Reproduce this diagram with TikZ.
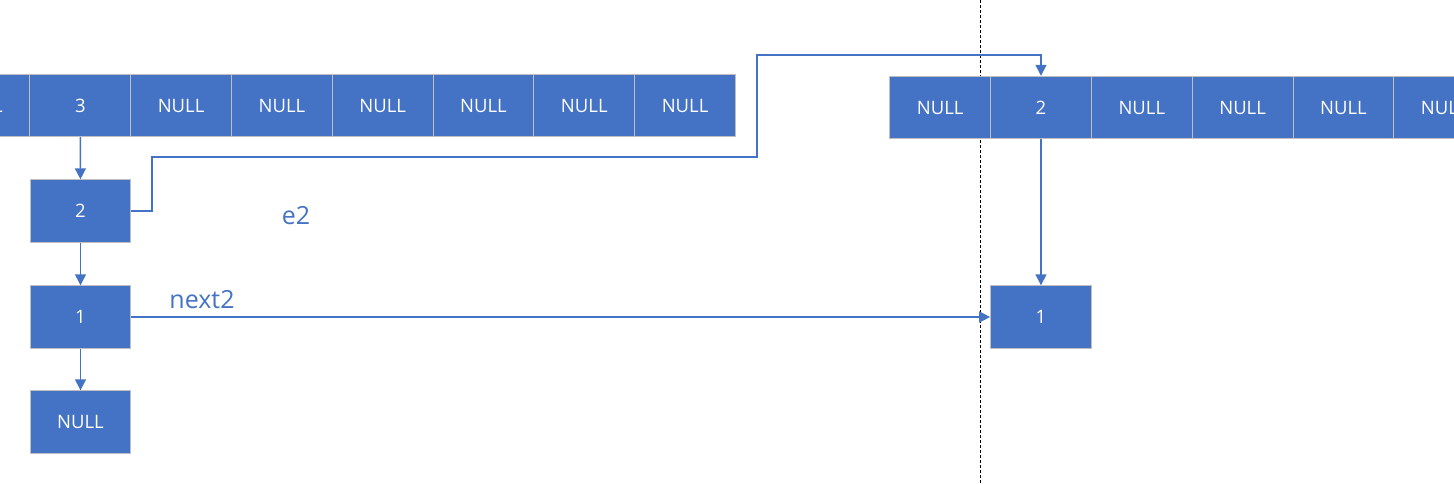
\documentclass[tikz,border=0pt]{standalone}
\usepackage{fontspec}
\setmainfont{Open Sans}
\usetikzlibrary{arrows.meta}
\definecolor{blockblue}{HTML}{4472C4}
\definecolor{cellgrey}{HTML}{BFBFBF}
\tikzset{
	cell/.style={rectangle, fill=blockblue, draw=cellgrey, line width=0.9pt,
		minimum width=100.8pt, minimum height=62.5pt, inner sep=0pt, text=white,
		font=\fontsize{18.5}{22}\selectfont},
	link/.style={draw=blockblue, line width=1.4pt, -{Triangle[length=11pt,width=11pt]}},
	tag/.style={text=blockblue, font=\fontsize{25}{29}\selectfont}
}
\begin{document}
\begin{tikzpicture}[x=1pt,y=-1pt]
		\useasboundingbox (0,0) rectangle (1454,484);
		\clip (0,0) rectangle (1454,484);
		\draw[black, line width=0.9pt, dash pattern=on 3pt off 2pt] (980,0) -- (980,484);
		\foreach \txt [count=\i from 0] in {NULL,3,NULL,NULL,NULL,NULL,NULL,NULL}
			\node[cell] (ta\i) at ({-20.5+100.8*\i},105.5) {\txt};
		\foreach \txt [count=\i from 0] in {NULL,2,NULL,NULL,NULL,NULL}
			\node[cell] (tb\i) at ({940.2+100.8*\i},107.5) {\txt};
		\node[cell] (l2) at (80.5,211) {2};
		\node[cell] (l1) at (80.5,317) {1};
		\node[cell] (lnull) at (80.5,422) {NULL};
		\node[cell] (r1) at (1041,317) {1};
		\node[tag] (e2) at (296,216) {e2};
		\node[tag] (next2) at (202,300) {next2};
		\draw[link] (ta1) -- (l2);
		\draw[link] (l2) -- (l1);
		\draw[link] (l1) -- (lnull);
		\draw[link] (l1) -- (r1);
		\draw[link] (tb1) -- (r1);
		\draw[link] (l2.east) -| (152,157) -| (757,55) -| (tb1.north);
	\end{tikzpicture}
\end{document}
